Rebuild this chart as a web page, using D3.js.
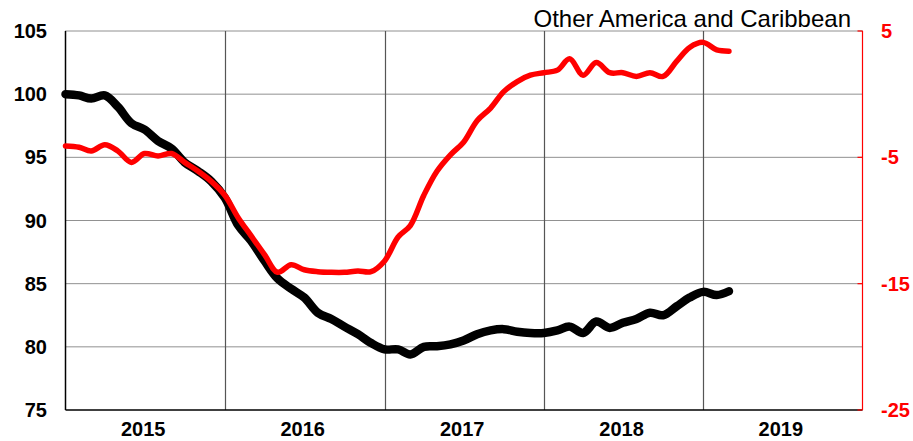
<!DOCTYPE html>
<html>
<head>
<meta charset="utf-8">
<script src="https://cdn.jsdelivr.net/npm/d3@7"></script>
<style>
  html, body { margin: 0; padding: 0; background: #fff; }
  svg { display: block; }
  text { font-family: "Liberation Sans", Arial, sans-serif; }
</style>
</head>
<body>
<svg id="chart" width="913" height="441"></svg>
<script>
// ---- data ----
const title = "Other America and Caribbean";
const startYear = 2015;
const years = [2015, 2016, 2017, 2018, 2019];
const leftTicks = [75, 80, 85, 90, 95, 100, 105];
const rightTicks = [-25, -15, -5, 5];
// black series (left axis), monthly from Jan 2015
const blackValues = [100.0, 99.9, 99.65, 99.9, 99.0, 97.7, 97.2, 96.3, 95.7, 94.6,
  93.9, 93.1, 91.8, 89.6, 88.4, 86.8, 85.4, 84.6, 83.9, 82.7,
  82.2, 81.6, 81.0, 80.3, 79.8, 79.8, 79.4, 80.0, 80.05, 80.2,
  80.5, 81.0, 81.3, 81.4, 81.2, 81.1, 81.1, 81.3, 81.6, 81.1,
  82.0, 81.5, 81.9, 82.2, 82.7, 82.5, 83.2, 83.9, 84.35, 84.1, 84.4];
// red series (right axis), monthly from Jan 2015
const redValues = [-4.1, -4.2, -4.5, -4.0, -4.5, -5.4, -4.7, -4.9, -4.7, -5.4,
  -6.1, -6.9, -8.0, -9.8, -11.2, -12.7, -14.1, -13.5, -13.9, -14.05,
  -14.1, -14.1, -14.0, -14.05, -13.2, -11.3, -10.4, -8.0, -6.1, -4.8,
  -3.8, -2.1, -1.1, 0.2, 1.0, 1.5, 1.7, 1.9, 2.8, 1.5,
  2.5, 1.7, 1.7, 1.4, 1.7, 1.4, 2.6, 3.7, 4.1, 3.5, 3.4];

// ---- layout ----
const svg = d3.select("#chart");
const L = 65.5, R = 862.5, T = 31, B = 410;

const x = d3.scaleTime()
  .domain([new Date(startYear, 0, 1), new Date(2020, 0, 1)])
  .range([L, R]);
const yL = d3.scaleLinear().domain([75, 105]).range([B, T]);
const yR = d3.scaleLinear().domain([-25, 5]).range([B, T]);

const dateOf = i => new Date(startYear, i, 1);

// horizontal dotted gridlines
svg.append("g").selectAll("line")
  .data(leftTicks.filter(v => v > 75))
  .join("line")
  .attr("x1", L).attr("x2", R)
  .attr("y1", d => yL(d)).attr("y2", d => yL(d))
  .attr("stroke", "#222").attr("stroke-width", 1)
  .attr("stroke-dasharray", "1,1");

// vertical year lines
svg.append("g").selectAll("line")
  .data(years.slice(1))
  .join("line")
  .attr("x1", d => Math.round(x(new Date(d, 0, 1))) + 0.5)
  .attr("x2", d => Math.round(x(new Date(d, 0, 1))) + 0.5)
  .attr("y1", T).attr("y2", B)
  .attr("stroke", "#555").attr("stroke-width", 1.2);

// axes lines
svg.append("line").attr("x1", L).attr("x2", L).attr("y1", T).attr("y2", B)
  .attr("stroke", "#000").attr("stroke-width", 1.5);
svg.append("line").attr("x1", L).attr("x2", R).attr("y1", B).attr("y2", B)
  .attr("stroke", "#000").attr("stroke-width", 1.5);
svg.append("line").attr("x1", R).attr("x2", R).attr("y1", T).attr("y2", B)
  .attr("stroke", "#ff0000").attr("stroke-width", 1.2);

// right axis ticks (inward)
svg.append("g").selectAll("line")
  .data(rightTicks)
  .join("line")
  .attr("x1", R - 5).attr("x2", R)
  .attr("y1", d => yR(d)).attr("y2", d => yR(d))
  .attr("stroke", "#ff0000").attr("stroke-width", 1.2);

// left tick labels
svg.append("g").selectAll("text")
  .data(leftTicks)
  .join("text")
  .attr("x", 47).attr("y", d => yL(d) + 7)
  .attr("text-anchor", "end")
  .attr("font-size", 20).attr("font-weight", "bold")
  .attr("fill", "#000")
  .text(d => d);

// right tick labels
svg.append("g").selectAll("text")
  .data(rightTicks)
  .join("text")
  .attr("x", 881).attr("y", d => yR(d) + 7)
  .attr("text-anchor", "start")
  .attr("font-size", 20).attr("font-weight", "bold")
  .attr("fill", "#ff0000")
  .text(d => d);

// year labels
svg.append("g").selectAll("text")
  .data(years)
  .join("text")
  .attr("x", d => (x(new Date(d, 0, 1)) + x(new Date(d + 1, 0, 1))) / 2 - 2)
  .attr("y", 436)
  .attr("text-anchor", "middle")
  .attr("font-size", 20).attr("font-weight", "bold")
  .attr("fill", "#000")
  .text(d => d);

// title
svg.append("text")
  .attr("x", 851).attr("y", 27)
  .attr("text-anchor", "end")
  .attr("font-size", 24)
  .attr("fill", "#000")
  .text(title);

// lines
const blackLine = d3.line()
  .x((d, i) => x(dateOf(i)))
  .y(d => yL(d))
  .curve(d3.curveCatmullRom.alpha(0.5));
const redLine = d3.line()
  .x((d, i) => x(dateOf(i)))
  .y(d => yR(d))
  .curve(d3.curveCatmullRom.alpha(0.5));

svg.append("path")
  .datum(blackValues)
  .attr("d", blackLine)
  .attr("fill", "none")
  .attr("stroke", "#000")
  .attr("stroke-width", 8.5)
  .attr("stroke-linejoin", "round")
  .attr("stroke-linecap", "round");

svg.append("path")
  .datum(redValues)
  .attr("d", redLine)
  .attr("fill", "none")
  .attr("stroke", "#ff0000")
  .attr("stroke-width", 5.5)
  .attr("stroke-linejoin", "round")
  .attr("stroke-linecap", "round");
</script>
</body>
</html>
